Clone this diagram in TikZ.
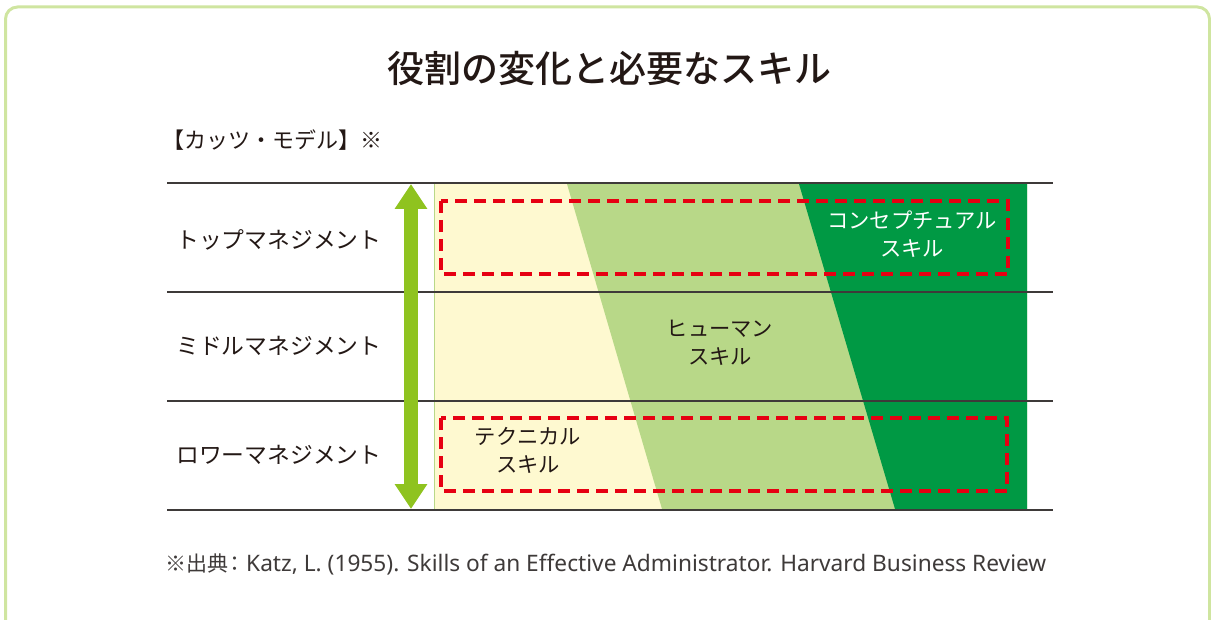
\documentclass[tikz,border=0pt]{standalone}
\usepackage{fontspec}
\setmainfont{Noto Sans CJK JP}
\newfontfamily\titlefont{Noto Sans CJK JP}[UprightFont={* Medium}]
\newfontfamily\latinfont{Noto Sans}
\usetikzlibrary{arrows.meta}
\definecolor{frameg}{HTML}{CFE5A0}
\definecolor{ylw}{HTML}{FEF9D0}
\definecolor{lgreen}{HTML}{B8D888}
\definecolor{dgreen}{HTML}{009944}
\definecolor{argreen}{HTML}{8FC31F}
\definecolor{redd}{HTML}{E60012}
\definecolor{ink}{HTML}{231815}
\definecolor{softink}{HTML}{3E3A39}
\definecolor{rule}{HTML}{3E3A39}
\tikzset{
  rowrule/.style={draw=rule, line width=1.4pt},
  dashbox/.style={draw=redd, line width=3.6pt, dash pattern=on 12pt off 7pt},
  rowlabel/.style={anchor=west, text=ink, font=\fontsize{22.8}{26}\selectfont, inner sep=0pt},
  skilllabel/.style={align=center, font=\fontsize{21.3}{28}\selectfont, inner sep=0pt},
  bigarrow/.style={draw=argreen, line width=14pt, {Triangle[width=31pt,length=25pt]}-{Triangle[width=31pt,length=25pt]}}
}
\begin{document}
\begin{tikzpicture}[x=1pt,y=-1pt]
\useasboundingbox (0,0) rectangle (1211,620);
\begin{scope}
\clip (0,0) rectangle (1211,620);
\draw[frameg, line width=3pt, rounded corners=12pt] (5.5,7) rectangle (1209.5,660);
\end{scope}
% title
\node[font=\titlefont\fontsize{37}{40}\selectfont, text=ink] (title) at (609,68) {役割の変化と必要なスキル};
\node[anchor=west, text=ink, font=\fontsize{22}{24}\selectfont, inner sep=0pt] (sub) at (162,140) {【カッツ・モデル】※};
% fills
\fill[ylw] (434,184) rectangle (1027,509);
\fill[lgreen] (567,184) -- (1027,184) -- (1027,509) -- (662,509) -- cycle;
\fill[dgreen] (799,184) -- (1027,184) -- (1027,509) -- (895,509) -- cycle;
\draw[lgreen, line width=1pt] (434,184) -- (434,509);
% rules
\coordinate (r1a) at (167,183); \coordinate (r1b) at (1053,183);
\coordinate (r2a) at (167,292); \coordinate (r2b) at (1053,292);
\coordinate (r3a) at (167,401); \coordinate (r3b) at (1053,401);
\coordinate (r4a) at (167,510); \coordinate (r4b) at (1053,510);
\draw[rowrule] (r1a) -- (r1b);
\draw[rowrule] (r2a) -- (r2b);
\draw[rowrule] (r3a) -- (r3b);
\draw[rowrule] (r4a) -- (r4b);
% arrow
\coordinate (atop) at (411,184);
\coordinate (abot) at (411,509);
\draw[bigarrow] (atop) -- (abot);
% dashed boxes
\draw[dashbox] (441,201) rectangle (1008,274);
\draw[dashbox] (441,418) rectangle (1007,491);
% row labels
\node[rowlabel] (top) at (176,240) {トップマネジメント};
\node[rowlabel] (mid) at (176,346) {ミドルマネジメント};
\node[rowlabel] (low) at (176,455) {ロワーマネジメント};
% skill labels
\node[skilllabel, text=white] (concept) at (912,234) {コンセプチュアル\\スキル};
\node[skilllabel, text=ink] (human) at (720,343) {ヒューマン\\スキル};
\node[skilllabel, text=ink] (tech) at (528,450) {テクニカル\\スキル};
% footer
\node[anchor=west, text=softink, font=\fontsize{21}{24}\selectfont, inner sep=0pt] (src) at (165,564) {※出典\hspace{-4pt}：\hspace{1pt}{\latinfont\fontsize{22.7}{26}\selectfont Katz, L. (1955). Skills of an Effective Administrator. Harvard Business Review}};
\end{tikzpicture}
\end{document}
